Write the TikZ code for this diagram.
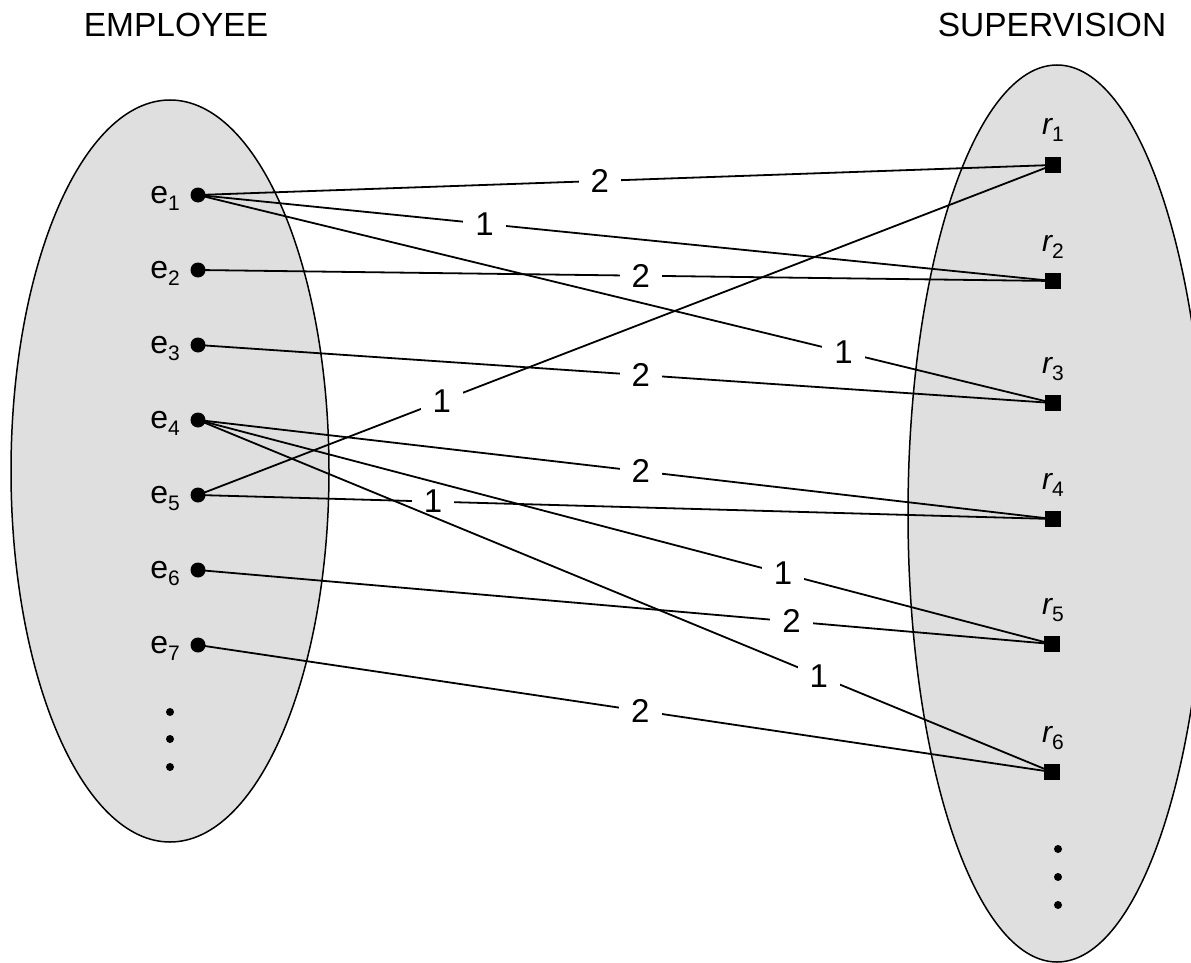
\documentclass[tikz,border=0pt]{standalone}
\usepackage{fontspec}
\setmainfont{Liberation Sans}
\pgfdeclarelayer{bg}
\pgfdeclarelayer{edges}
\pgfsetlayers{bg,edges,main}
\newcommand\elab[1]{{\fontsize{32}{40}\selectfont e}\raisebox{-7pt}{\fontsize{21}{26}\selectfont #1}}
\newcommand\rlab[1]{{\fontsize{30}{36}\selectfont\itshape r}\raisebox{-7pt}{\fontsize{21}{26}\selectfont #1}}
\tikzset{
  edot/.style={circle,fill=black,inner sep=0pt,minimum size=15pt},
  rsq/.style={rectangle,fill=black,inner sep=0pt,minimum size=16pt},
  smalldot/.style={circle,fill=black,inner sep=0pt,minimum size=8pt},
  setshape/.style={draw=black,fill=gray!25,line width=1.5pt},
  conn/.style={draw=black,line width=1.8pt},
  wt/.style={fill=white,inner xsep=12pt,inner ysep=1pt,font=\fontsize{33}{38}\selectfont},
  title/.style={font=\fontsize{33.5}{40}\selectfont,anchor=base}
}
\begin{document}
\begin{tikzpicture}[x=1pt,y=-1pt]
\useasboundingbox (0,0) rectangle (1191,963);
\clip (0,0) rectangle (1191,963);
% titles
\node[title] (t1) at (176,37) {EMPLOYEE};
\node[title] (t2) at (1052,37) {SUPERVISION};
% employee nodes
\node[edot] (e1) at (198,195) {};
\node[edot] (e2) at (198,270) {};
\node[edot] (e3) at (198,345) {};
\node[edot] (e4) at (198,420) {};
\node[edot] (e5) at (198,495) {};
\node[edot] (e6) at (198,570) {};
\node[edot] (e7) at (198,645) {};
\foreach \i/\y in {1/195,2/270,3/345,4/420,5/495,6/570,7/645}{
  \node[anchor=base east,inner sep=0pt] (le\i) at (180,\y+8) {\elab{\i}};
}
\node[smalldot] (ld1) at (170,712) {};
\node[smalldot] (ld2) at (170,739) {};
\node[smalldot] (ld3) at (170,767) {};
% supervision nodes
\node[rsq] (r1) at (1053,165) {};
\node[rsq] (r2) at (1053,281) {};
\node[rsq] (r3) at (1053,403) {};
\node[rsq] (r4) at (1053,519) {};
\node[rsq] (r5) at (1052,644) {};
\node[rsq] (r6) at (1052,772) {};
\foreach \i/\y in {1/165,2/281,3/403,4/519,5/644,6/772}{
  \node[anchor=base,inner sep=0pt] (lr\i) at (1053,\y-30) {\rlab{\i}};
}
\node[smalldot] (rd1) at (1058,849) {};
\node[smalldot] (rd2) at (1058,877) {};
\node[smalldot] (rd3) at (1058,905) {};
% sets
\begin{pgfonlayer}{bg}
\path[setshape] (170,471) ellipse [x radius=159, y radius=371];
\path[setshape] (1057,513.5) ellipse [x radius=149, y radius=448.5];
\end{pgfonlayer}
% connectors
\begin{pgfonlayer}{edges}
\draw[conn] (e1.center) -- node[wt,pos=0.47] {2} (r1.center);
\draw[conn] (e1.center) -- node[wt,pos=0.335] {1} (r2.center);
\draw[conn] (e1.center) -- node[wt,pos=0.755] {1} (r3.center);
\draw[conn] (e2.center) -- node[wt,pos=0.518] {2} (r2.center);
\draw[conn] (e3.center) -- node[wt,pos=0.518] {2} (r3.center);
\draw[conn] (e4.center) -- node[wt,pos=0.518] {2} (r4.center);
\draw[conn] (e5.center) -- node[wt,pos=0.285] {1} (r1.center);
\draw[conn] (e5.center) -- node[wt,pos=0.275] {1} (r4.center);
\draw[conn] (e4.center) -- node[wt,pos=0.685] {1} (r5.center);
\draw[conn] (e6.center) -- node[wt,pos=0.695] {2} (r5.center);
\draw[conn] (e4.center) -- node[wt,pos=0.727] {1} (r6.center);
\draw[conn] (e7.center) -- node[wt,pos=0.518] {2} (r6.center);
\end{pgfonlayer}
\end{tikzpicture}
\end{document}
